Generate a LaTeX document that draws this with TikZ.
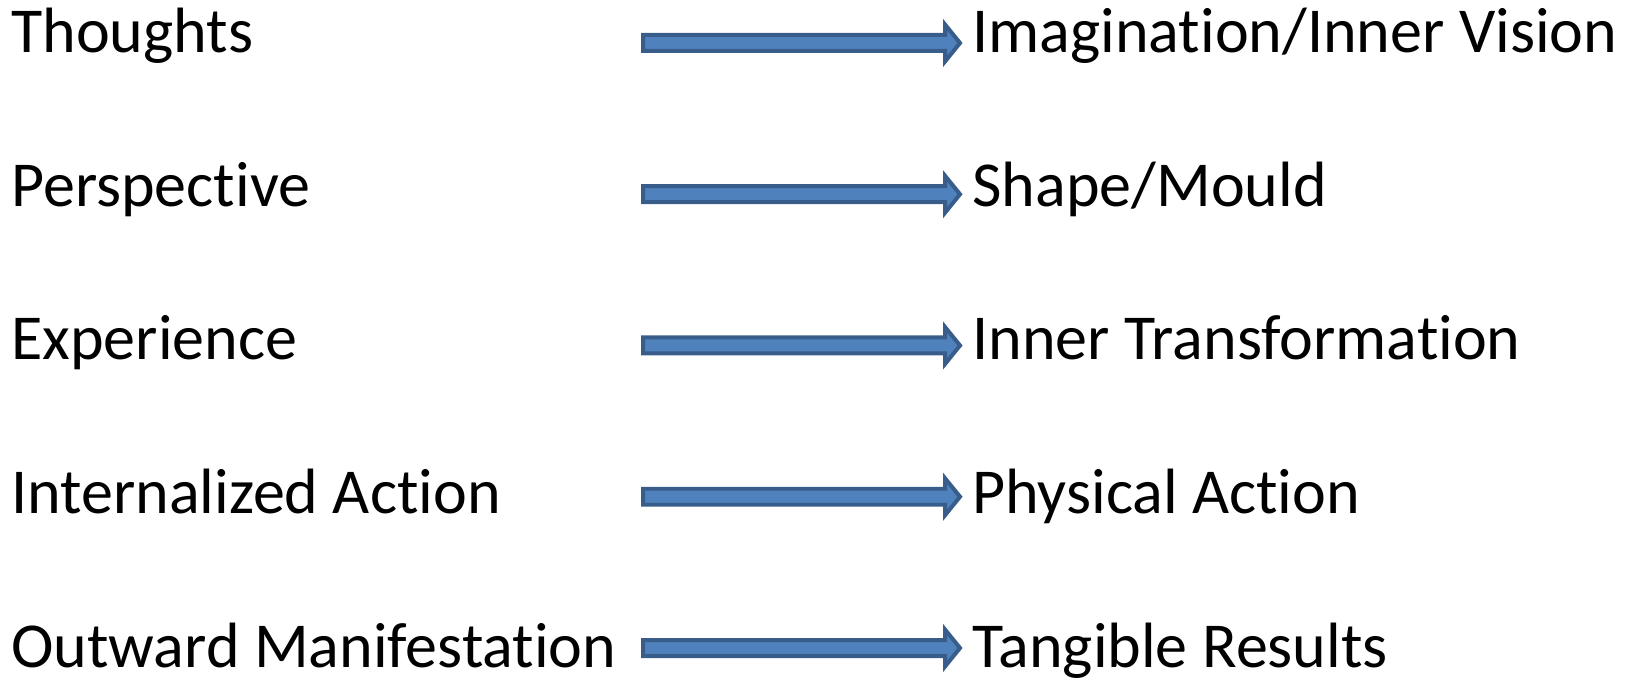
\documentclass[tikz,border=0pt]{standalone}
\usepackage{fontspec}
\setmainfont{Carlito}[Ligatures=NoCommon]
\usepackage{xcolor}
\usepackage{tikz}
\usetikzlibrary{positioning, calc}
\definecolor{arrowfill}{HTML}{4F81BD}
\definecolor{arrowedge}{HTML}{385D8A}

\begin{document}
\begin{tikzpicture}[
    x=0.02cm, y=-0.02cm,
    cause/.style={anchor=base west, inner xsep=0pt, inner ysep=0pt,
                  font=\fontsize{36.45}{43}\selectfont},
    effect/.style={cause, inner xsep=0.24cm},
    fat/.style={draw=arrowedge, fill=arrowfill, line width=0.08cm, line join=miter,
                to path={($(\tikztostart)+(0,-8)$) -- ($(\tikztotarget)+(-15,-8)$)
                  -- ($(\tikztotarget)+(-15,-18.5)$) -- (\tikztotarget)
                  -- ($(\tikztotarget)+(-15,18.5)$) -- ($(\tikztotarget)+(-15,8)$)
                  -- ($(\tikztostart)+(0,8)$) -- cycle}},
]
\useasboundingbox (0,0) rectangle (1629,678);

% Left column
\node[cause] (thoughts) at (11,53) {Thoughts};
\node[cause] (persp) at (11,206.5) {Perspective};
\node[cause] (exper) at (11,360) {Experience};
\node[cause] (inner) at (11,513.5) {Internalized Action};
\node[cause] (outward) at (11,667) {Outward Manifestation};

% Right column
\node[effect] (imag) at (960,53) {Imagination/Inner Vision};
\node[effect] (shape) at (960,206.5) {Shape/Mould};
\node[effect] (transf) at (960,360) {Inner Transformation};
\node[effect] (phys) at (960,513.5) {Physical Action};
\node[effect] (tangible) at (960,667) {Tangible Results};

% Arrow tails
\foreach \n/\y in {a/43, b/194.25, c/345.5, d/496.75, e/648} {
  \coordinate (tail\n) at (643,\y);
}

\draw[fat] (taila) to (imag.west |- taila);
\draw[fat] (tailb) to (shape.west |- tailb);
\draw[fat] (tailc) to (transf.west |- tailc);
\draw[fat] (taild) to (phys.west |- taild);
\draw[fat] (taile) to (tangible.west |- taile);

\end{tikzpicture}
\end{document}
